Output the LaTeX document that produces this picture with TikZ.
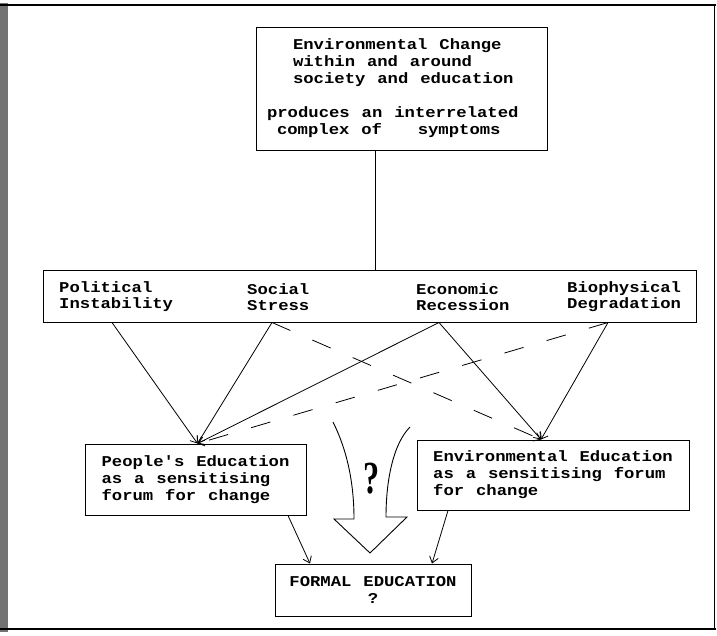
\documentclass[tikz,border=0pt]{standalone}
\usepackage{fontspec}
\usetikzlibrary{arrows.meta}
\newfontfamily\dotfont[FakeStretch=1.15,WordSpace={1.15,0,0}]{Liberation Mono}
\newfontfamily\qfont{Liberation Serif}

\begin{document}
\begin{tikzpicture}[x=1pt,y=-1pt,
  box/.style={draw,line width=1pt,align=left,inner sep=0pt,
    font=\dotfont\bfseries\fontsize{15}{17}\selectfont},
  lbl/.style={align=left,inner sep=0pt,anchor=west,
    font=\dotfont\bfseries\fontsize{15}{16}\selectfont},
  link/.style={line width=0.8pt,-{Straight Barb[length=6pt,width=9pt]}},
  dlink/.style={link,dash pattern=on 20pt off 24pt}]

\useasboundingbox (0,0) rectangle (717,635);
\fill[white] (0,0) rectangle (717,635);

\fill[black!55] (0,3) rectangle (8,632);
\draw[line width=2pt] (0,5) -- (716,5);
\draw[line width=1pt] (714,5) -- (714,629);
\draw[line width=2.5pt] (0,629) -- (716,629);

\node[box,align=flush left,minimum width=291pt,minimum height=123pt,text width=269pt] (top) at (401.5,88.5)
  {\hspace*{26pt}Environmental Change\\
   \hspace*{26pt}within and around\\
   \hspace*{26pt}society and education\\[17pt]
   produces an interrelated\\
   \hspace*{10pt}complex of\ \ \ symptoms};

\node[draw,line width=1pt,minimum width=653pt,minimum height=52pt,inner sep=0pt] (bar) at (369.5,296) {};
\node[lbl] (pol) at (59,297) {Political\\Instability};
\node[lbl] (soc) at (247,297) {Social\\Stress};
\node[lbl] (eco) at (416,297) {Economic\\Recession};
\node[lbl] (bio) at (567,297) {Biophysical\\Degradation};

\node[box,minimum width=221pt,minimum height=71pt] (peo) at (195.5,479.5)
  {People's Education\\as a sensitising\\forum for change};
\node[box,minimum width=272pt,minimum height=70pt] (env) at (553,475)
  {Environmental Education\\as a sensitising forum\\for change};
\node[box,align=center,minimum width=196pt,minimum height=52pt] (form) at (373,590)
  {FORMAL EDUCATION\\?};

\draw[line width=0.8pt] ([xshift=-26.5pt]top.south) -- ([xshift=5.5pt]bar.north);

\draw[link] ([xshift=-257.5pt]bar.south) -- ([xshift=2pt]peo.north);
\draw[link] ([xshift=-97.5pt]bar.south) -- ([xshift=2pt]peo.north);
\draw[link] ([xshift=69.5pt]bar.south) -- ([xshift=2pt]peo.north);
\draw[dlink] ([xshift=238.5pt]bar.south) -- ([xshift=2pt]peo.north);

\draw[link] ([xshift=69.5pt]bar.south) -- ([xshift=-12pt]env.north);
\draw[link] ([xshift=238.5pt]bar.south) -- ([xshift=-12pt]env.north);
\draw[dlink] ([xshift=-97.5pt]bar.south) -- ([xshift=-12pt]env.north);

\draw[link] ([xshift=92.5pt]peo.south) -- ([xshift=-63pt]form.north);
\draw[link] ([xshift=-105pt]env.south) -- ([xshift=59pt]form.north);

\draw[line width=0.9pt,line join=miter] (333,422) .. controls (346,448) and (354,480) .. (354,519)
  -- (334,519) -- (370,553) -- (407,517) -- (386,517)
  .. controls (386,478) and (394,443) .. (410,427);
\node[inner sep=0pt,font=\qfont\bfseries\fontsize{46}{46}\selectfont] (q) at (372,479) {\scalebox{0.7}[1]{?}};

\end{tikzpicture}
\end{document}
